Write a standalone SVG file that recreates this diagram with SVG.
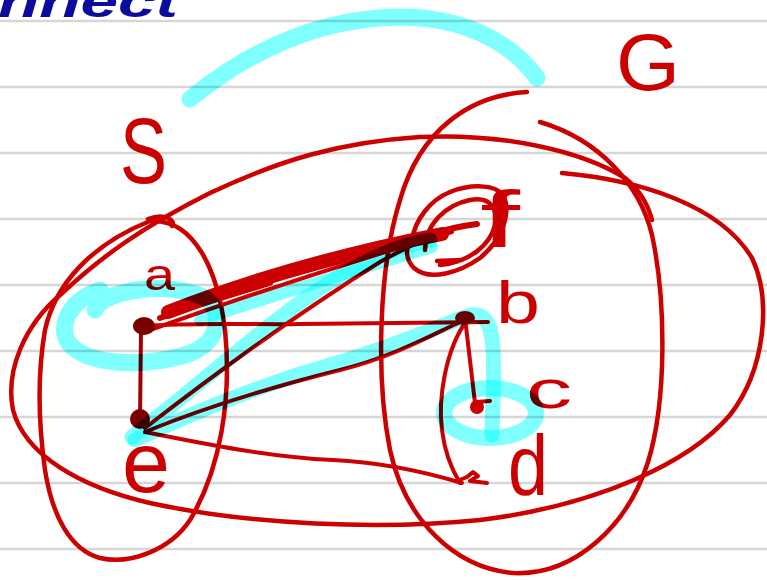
<svg xmlns="http://www.w3.org/2000/svg" width="767" height="580" viewBox="0 0 767 580">
<style>
.rule{stroke:#d6d6d6;stroke-width:2.5;fill:none}
.ink{stroke:#cc0000;stroke-width:4.5;fill:none;stroke-linecap:round;stroke-linejoin:round}
.edge{stroke:#cc0000;stroke-width:4;fill:none;stroke-linecap:round;stroke-linejoin:round}
.dot{fill:#cc0000}
.dark{fill:#7a0000}
.hl{stroke:#80ffff;stroke-width:17;fill:none;stroke-linecap:round;stroke-linejoin:round;mix-blend-mode:multiply}
.lbl{fill:#cc0000;font-family:"Liberation Sans",Arial,sans-serif}
.title{fill:#0b0b9e;font-family:"Liberation Sans",Arial,sans-serif;font-weight:bold;font-style:italic}
</style>
<rect width="767" height="580" fill="#ffffff"/>
<g id="ruled-lines">
<line class="rule" x1="0" y1="21" x2="767" y2="21"/>
<line class="rule" x1="0" y1="87" x2="767" y2="87"/>
<line class="rule" x1="0" y1="153" x2="767" y2="153"/>
<line class="rule" x1="0" y1="219" x2="767" y2="219"/>
<line class="rule" x1="0" y1="285" x2="767" y2="285"/>
<line class="rule" x1="0" y1="351" x2="767" y2="351"/>
<line class="rule" x1="0" y1="417" x2="767" y2="417"/>
<line class="rule" x1="0" y1="483" x2="767" y2="483"/>
<line class="rule" x1="0" y1="549" x2="767" y2="549"/>
</g>
<text class="title" x="-2" y="17" font-size="44" textLength="180" lengthAdjust="spacingAndGlyphs">nnect</text>
<g id="set-S">
<path class="ink" d="M148,219 C165,213 176,220 172,226 M150,221 C195,218 218,272 225,330 C232,400 220,470 190,520 C170,550 130,565 100,558 C70,550 52,515 45,470 C38,420 38,370 45,330 C55,285 90,245 150,221"/>
<text class="lbl" x="120" y="183" font-size="92" textLength="47" lengthAdjust="spacingAndGlyphs">S</text>
</g>
<g id="set-G">
<path class="ink" d="M527,92 C470,95 420,130 400,200 C378,270 376,380 390,450 C405,520 455,568 513,573 C575,576 628,525 648,462 C667,400 666,300 652,235 C640,185 600,140 540,122"/>
<path class="ink" d="M562,173 C640,180 720,205 752,258 C772,300 765,370 730,415 C690,462 600,505 480,520 C380,530 250,525 150,503 C80,487 25,455 13,410 C5,370 25,325 60,295 C100,258 140,228 210,193 C280,160 340,142 420,137 C500,133 580,150 625,178 C640,190 648,205 652,220"/>
<text class="lbl" x="616" y="90" font-size="80" textLength="64" lengthAdjust="spacingAndGlyphs">G</text>
</g>
<g id="connectors">
<path class="edge" style="stroke:#a00000" d="M141,330 L140,420"/>
<path class="edge" d="M143,326 C200,322 260,325 300,324 C380,323 440,322 488,322"/>
<path class="edge" style="stroke-width:14" d="M168,312 C240,284 330,256 442,234"/>
<path class="edge" style="stroke-width:6" d="M160,318 C200,304 240,292 270,283"/>
<path class="edge" d="M150,330 C220,305 330,268 452,232"/>
<path class="edge" d="M145,428 C220,370 300,312 380,262 C410,245 430,236 452,230"/>
<path class="edge" d="M145,432 C210,405 280,385 340,370 C400,355 440,330 465,320"/>
<path class="edge" d="M145,432 C210,445 270,457 333,460 C380,462 425,472 462,483"/>
<path class="edge" d="M465,318 L475,403"/>
<path class="edge" d="M467,320 C445,350 438,400 442,430 C445,455 452,470 460,483"/>
</g>
<g id="node-a">
<ellipse class="dark" cx="144" cy="326" rx="11" ry="9"/>
<text class="lbl" x="144" y="290" font-size="44" textLength="31" lengthAdjust="spacingAndGlyphs">a</text>
</g>
<g id="node-e">
<circle class="dark" cx="140" cy="419" r="10"/>
<text class="lbl" x="122" y="492" font-size="86" textLength="48" lengthAdjust="spacingAndGlyphs">e</text>
</g>
<g id="node-b">
<ellipse class="dot" cx="465" cy="318" rx="10" ry="7"/>
<text class="lbl" x="496" y="323" font-size="59" textLength="44" lengthAdjust="spacingAndGlyphs">b</text>
</g>
<g id="node-c">
<circle class="dot" cx="477" cy="407" r="7"/>
<path class="edge" d="M476,402 L490,401"/>
<text class="lbl" x="526" y="408" font-size="53" textLength="46" lengthAdjust="spacingAndGlyphs">c</text>
</g>
<g id="node-d">
<path class="edge" d="M457,481 L467,477 L473,472 L478,476 L470,481 L487,483"/>
<text class="lbl" x="508" y="495" font-size="86" textLength="40" lengthAdjust="spacingAndGlyphs">d</text>
</g>
<g id="node-f">
<path class="ink" d="M412,240 C415,220 430,200 450,192 C470,184 495,184 503,195 C512,212 502,240 480,258 C460,272 430,282 414,268 C404,258 406,245 412,238 M425,250 C425,225 445,205 470,200 C490,196 498,208 495,225 C490,245 470,262 440,265 M437,261 L462,260"/>
<path class="edge" style="stroke-width:6" d="M440,232 C450,228 462,226 477,224"/>
<text class="lbl" x="480" y="247" font-size="80" textLength="40" lengthAdjust="spacingAndGlyphs">f</text>
</g>
<g id="highlights">
<path class="hl" d="M190,99 C250,50 320,18 400,17 C460,17 510,40 537,78"/>
<path class="hl" d="M95,310 C102,290 170,280 205,298 C225,312 220,345 185,355 C140,368 85,365 68,342 C58,325 70,300 100,290"/>
<path class="hl" style="stroke-width:15" d="M132,437 C200,385 270,320 330,282 C370,258 400,245 430,240"/>
<path class="hl" style="stroke-width:12" d="M200,320 C260,300 330,278 432,247"/>
<path class="hl" style="stroke-width:15" d="M135,440 C200,410 260,385 330,365 C400,345 440,325 470,315 C488,312 492,330 493,350 C495,380 492,410 492,435"/>
<ellipse class="hl" style="stroke-width:16" cx="490" cy="413" rx="46" ry="25"/>
</g>
</svg>
